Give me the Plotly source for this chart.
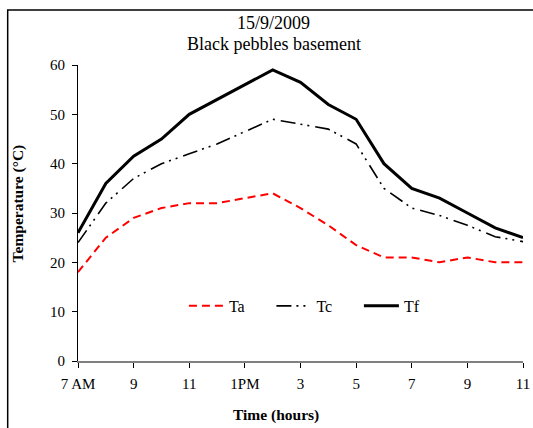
import plotly.graph_objects as go

hours = list(range(7, 24))
ta = [18, 25, 29, 31, 32, 32, 33, 34, 31, 27.5, 23.5, 21, 21, 20, 21, 20, 20]
tc = [24, 32, 37, 40, 42, 44, 46.5, 49, 48, 47, 44, 35, 31, 29.5, 27.5, 25.2, 24.2]
tf = [26, 36, 41.5, 45, 50, 53, 56, 59, 56.5, 52, 49, 40, 35, 33, 30, 27, 25]
tick_vals = [7, 9, 11, 13, 15, 17, 19, 21, 23]
tick_text = ["7 AM", "9", "11", "1PM", "3", "5", "7", "9", "11"]
title_lines = ["15/9/2009", "Black pebbles basement"]

FONT = "Liberation Serif"

fig = go.Figure()
fig.add_trace(go.Scatter(x=hours, y=ta, name="Ta", mode="lines",
                         line=dict(color="#ff0000", width=2, dash="8px,5px")))
fig.add_trace(go.Scatter(x=hours, y=tc, name="Tc", mode="lines",
                         line=dict(color="#000000", width=1.6, dash="15px,5px,2px,5px,2px,6px")))
fig.add_trace(go.Scatter(x=hours, y=tf, name="Tf", mode="lines",
                         line=dict(color="#000000", width=3)))

annots = [
    dict(text=title_lines[0], x=0.44, y=1.142, font=dict(family=FONT, size=18)),
    dict(text=title_lines[1], x=0.44, y=1.072, font=dict(family=FONT, size=18)),
    dict(text="<b>Time (hours)</b>", x=0.446, y=-0.182, font=dict(family=FONT, size=15.5)),
    dict(text="<b>Temperature (°C)</b>", x=-0.136, y=0.534, textangle=-90,
         font=dict(family=FONT, size=15.5)),
]
for a in annots:
    a.update(xref="paper", yref="paper", xanchor="center", yanchor="middle", showarrow=False)

fig.update_layout(
    width=533, height=428,
    margin=dict(l=77.5, r=10, t=65, b=67, pad=0, autoexpand=False),
    paper_bgcolor="white", plot_bgcolor="white",
    font=dict(family=FONT, size=15, color="#000000"),
    showlegend=True,
    legend=dict(orientation="h", x=0.238, xanchor="left", y=0.186, yanchor="middle",
                bgcolor="rgba(0,0,0,0)", font=dict(family=FONT, size=16),
                entrywidth=37.5, itemwidth=35, tracegroupgap=0),
    xaxis=dict(range=[7, 23], tickvals=tick_vals, ticktext=tick_text, automargin=False,
               showgrid=False, zeroline=False, showline=True, linecolor="#808080",
               linewidth=2, ticks="outside", ticklen=5, tickcolor="#000000",
               tickfont=dict(family=FONT, size=15), ticklabelstandoff=3,
               ticklabeloverflow="allow"),
    yaxis=dict(range=[0, 60], dtick=10, showgrid=False, zeroline=False, showline=True,
               automargin=False,
               linecolor="#000000", linewidth=1, ticks="outside", ticklen=5, tickcolor="#000000",
               tickfont=dict(family=FONT, size=15), ticklabelstandoff=4),
    annotations=annots,
    shapes=[dict(type="rect", xref="paper", yref="paper", x0=-0.158, x1=1.2, y0=-0.5, y1=1.186,
                 line=dict(color="#000000", width=1.5), fillcolor="rgba(0,0,0,0)", layer="below")],
)

fig.write_html("out.html", config={"displayModeBar": False},
               post_script="document.body.style.margin='0';")
